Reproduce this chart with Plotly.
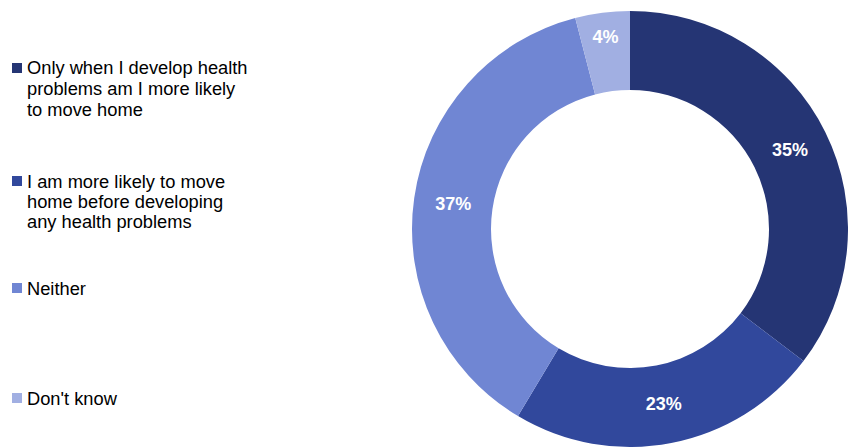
import plotly.graph_objects as go

# Survey responses: when would people move home?
labels = [
    "Only when I develop health problems am I more likely to move home",
    "I am more likely to move home before developing any health problems",
    "Neither",
    "Don't know",
]
values = [35, 23, 37, 4]
colors = ["#253574", "#31489c", "#7086d3", "#a1afe2"]

# Legend text, already wrapped into lines
legend_lines = [
    ["Only when I develop health", "problems am I more likely", "to move home"],
    ["I am more likely to move", "home before developing", "any health problems"],
    ["Neither"],
    ["Don't know"],
]

W, H = 848, 447
FONT = "Liberation Sans, Arial, sans-serif"

# Donut placement (pixels)
R = 218
cx, cy = W - R, H - R

fig = go.Figure(
    go.Pie(
        labels=labels,
        values=values,
        marker=dict(colors=colors, line=dict(width=0)),
        hole=139 / R,
        sort=False,
        direction="clockwise",
        rotation=0,
        texttemplate="<b>%{value}%</b>",
        textposition="inside",
        insidetextorientation="horizontal",
        textfont=dict(color="white", size=18, family=FONT),
        domain=dict(x=[(cx - R) / W, 1], y=[0, 2 * R / H]),
        showlegend=False,
        hoverinfo="label+percent",
    )
)

# Hand-built legend: colored square + wrapped text lines
first_baselines = [74, 187, 294, 404]
line_gap = 20.5
fs = 18.3
annotations = []
shapes = []
for lines, color, base in zip(legend_lines, colors, first_baselines):
    top = base - 11
    shapes.append(
        dict(
            type="rect", xref="paper", yref="paper",
            x0=12 / W, x1=22 / W,
            y0=1 - (top + 10) / H, y1=1 - top / H,
            fillcolor=color, line=dict(width=0),
        )
    )
    for i, txt in enumerate(lines):
        mid = base + i * line_gap - 6
        annotations.append(
            dict(
                text=txt, xref="paper", yref="paper",
                x=25 / W, y=1 - mid / H,
                xanchor="left", yanchor="middle",
                showarrow=False,
                font=dict(family=FONT, size=fs, color="#000000"),
            )
        )

fig.update_layout(
    width=W,
    height=H,
    margin=dict(l=0, r=0, t=0, b=0),
    paper_bgcolor="white",
    plot_bgcolor="white",
    annotations=annotations,
    shapes=shapes,
)

fig.write_html("out.html")
